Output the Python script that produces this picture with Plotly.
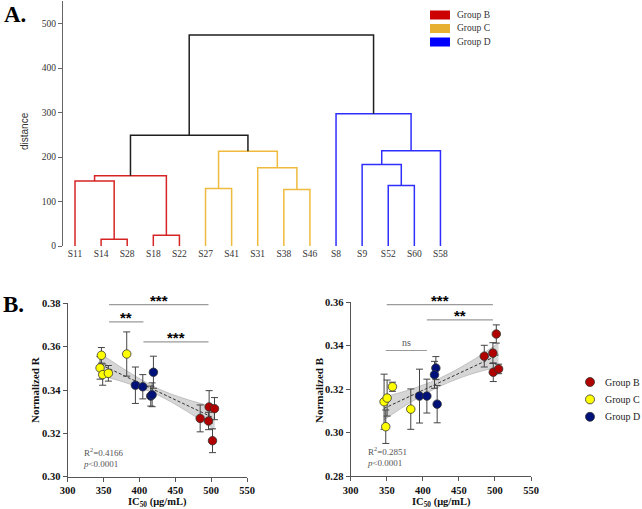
import plotly.graph_objects as go

W, H = 642, 509

# ---------------- Panel A: dendrogram data ----------------
leaves = ["S11", "S14", "S28", "S18", "S22", "S27", "S41", "S31", "S38", "S46",
          "S8", "S9", "S52", "S60", "S58"]
merge_a = ["S14", "S18", "S11", "m2", "S27", "S38", "S31", "m4", "S52", "S9", "m9", "S8", "m3", "m12"]
merge_b = ["S28", "S22", "m0", "m1", "S41", "S46", "m5", "m6", "S60", "m8", "S58", "m10", "m7", "m11"]
merge_h = [15, 24, 146, 158, 129, 127, 176, 213, 136, 183, 214, 297, 249, 474]
merge_g = ["B", "B", "B", "B", "C", "C", "C", "C", "D", "D", "D", "D", "top", "top"]
dendro_colors = {"B": "#d62424", "C": "#efba3e", "D": "#2e2eff", "top": "#1e1e1e"}
legendA_names = ["Group B", "Group C", "Group D"]
legendA_colors = ["#cc0000", "#e8b030", "#0000ff"]

# ---------------- Panel B data ----------------
groups = ["Group B", "Group C", "Group D"]
group_colors = {"Group B": "#b00000", "Group C": "#ffff00", "Group D": "#00127a"}

# Normalized R (left)
R_ic50 = {"Group C": [347.0, 345.1, 348.8, 356.7, 382.3],
          "Group D": [394.4, 404.7, 419.5, 415.8, 417.7],
          "Group B": [484.7, 497.2, 504.7, 496.3, 501.9]}
R_val = {"Group C": [0.3560, 0.3502, 0.3471, 0.3477, 0.3566],
         "Group D": [0.3422, 0.3415, 0.3482, 0.3372, 0.3378],
         "Group B": [0.3269, 0.3322, 0.3314, 0.3257, 0.3166]}
R_sd = {"Group C": [0.0036, 0.0052, 0.0049, 0.0036, 0.0102],
        "Group D": [0.0084, 0.0056, 0.0074, 0.0046, 0.0055],
        "Group B": [0.0062, 0.0075, 0.0051, 0.0040, 0.0055]}
R_fit_x = [346, 385, 425, 465, 505]
R_fit_y = [0.3517, 0.3456, 0.3393, 0.3331, 0.3269]
R_fit_lo = [0.3467, 0.3429, 0.3378, 0.3304, 0.3217]
R_fit_hi = [0.3567, 0.3483, 0.3408, 0.3358, 0.3321]
R_sig_x0 = [357.7, 357.7, 405.6]
R_sig_x1 = [496.3, 405.6, 496.3]
R_sig_y = [0.3794, 0.3714, 0.3622]
R_sig_text = ["***", "**", "***"]
R_stats = "R<sup>2</sup>=0.4166<br><i>p</i>&lt;0.0001"

# Normalized B (right)
B_ic50 = {"Group C": [346.3, 350.5, 357.9, 348.6, 383.3],
          "Group D": [395.4, 405.6, 418.1, 416.2, 419.9],
          "Group B": [485.2, 501.9, 497.2, 497.7, 505.1]}
B_val = {"Group C": [0.3142, 0.3159, 0.3211, 0.3027, 0.3108],
         "Group D": [0.3168, 0.3168, 0.3297, 0.3266, 0.3131],
         "Group B": [0.3352, 0.3454, 0.3366, 0.3278, 0.3293]}
B_sd = {"Group C": [0.0127, 0.0083, 0.0021, 0.0077, 0.0093],
        "Group D": [0.0124, 0.0078, 0.0053, 0.0062, 0.0086],
        "Group B": [0.0050, 0.0042, 0.0048, 0.0043, 0.0022]}
B_fit_x = [346, 385, 425, 465, 505]
B_fit_y = [0.3111, 0.3172, 0.3234, 0.3296, 0.3358]
B_fit_lo = [0.3058, 0.3143, 0.3215, 0.3267, 0.3303]
B_fit_hi = [0.3164, 0.3201, 0.3253, 0.3325, 0.3413]
B_sig_x0 = [350.0, 405.6, 348.6]
B_sig_x1 = [497.2, 497.2, 405.6]
B_sig_y = [0.3589, 0.3519, 0.3378]
B_sig_text = ["***", "**", "ns"]
B_stats = "R<sup>2</sup>=0.2851<br><i>p</i>&lt;0.0001"

SERIF = "Liberation Serif"
SANS = "Liberation Sans"

fig = go.Figure()

# ---------- dendrogram ----------
node_x = {name: i for i, name in enumerate(leaves)}
node_h = {name: 0 for name in leaves}
seg = {g: ([], []) for g in dendro_colors}
for k, (a, b, h, g) in enumerate(zip(merge_a, merge_b, merge_h, merge_g)):
    xs, ys = seg[g]
    xs += [node_x[a], node_x[a], node_x[b], node_x[b], None]
    ys += [node_h[a], h, h, node_h[b], None]
    node_x[f"m{k}"] = (node_x[a] + node_x[b]) / 2
    node_h[f"m{k}"] = h
for g, (xs, ys) in seg.items():
    fig.add_trace(go.Scatter(x=xs, y=ys, mode="lines", xaxis="x", yaxis="y",
                             line=dict(color=dendro_colors[g], width=1.5),
                             showlegend=False, hoverinfo="skip"))


def px_x(p):
    return p / W


def px_y(p):
    return 1 - p / H


def label(x, y, text, size, color="#111", family=SERIF, angle=0, xanchor="center"):
    fig.add_annotation(x=px_x(x), y=px_y(y), xref="paper", yref="paper", text=text,
                       showarrow=False, textangle=angle, xanchor=xanchor, yanchor="middle",
                       font=dict(family=family, size=size, color=color))


# ---------- scatter panels ----------
def add_panel(xa, ya, ic50, val, sd, fx, fy, flo, fhi, sx0, sx1, sy, stext, stats, sx):
    fig.add_trace(go.Scatter(x=fx, y=flo, mode="lines", xaxis=xa, yaxis=ya,
                             line=dict(color="rgba(150,150,150,0.8)", width=0.6, shape="spline"),
                             showlegend=False, hoverinfo="skip"))
    fig.add_trace(go.Scatter(x=fx, y=fhi, mode="lines", xaxis=xa, yaxis=ya, fill="tonexty",
                             fillcolor="rgba(200,200,200,0.75)",
                             line=dict(color="rgba(150,150,150,0.8)", width=0.6, shape="spline"),
                             showlegend=False, hoverinfo="skip"))
    fig.add_trace(go.Scatter(x=[fx[0], fx[-1]], y=[fy[0], fy[-1]], mode="lines", xaxis=xa, yaxis=ya,
                             line=dict(color="#333333", width=1, dash="3px,2px"),
                             showlegend=False, hoverinfo="skip"))
    for x0, x1, y, t in zip(sx0, sx1, sy, stext):
        fig.add_trace(go.Scatter(x=[x0, x1], y=[y, y], mode="lines", xaxis=xa, yaxis=ya,
                                 line=dict(color="#9a9a9a", width=1.2),
                                 showlegend=False, hoverinfo="skip"))
        is_ns = t == "ns"
        fig.add_annotation(x=(x0 + x1) / 2, y=y, xref=xa, yref=ya,
                           text=t if is_ns else f"<b>{t}</b>",
                           showarrow=False, xanchor="center", yanchor="middle",
                           yshift=8.5 if is_ns else 4.5,
                           font=dict(family=SERIF if is_ns else SANS, size=10 if is_ns else 15,
                                     color="#555555" if is_ns else "#000000"))
    for g in ["Group C", "Group D", "Group B"]:
        fig.add_trace(go.Scatter(x=ic50[g], y=val[g], mode="markers", xaxis=xa, yaxis=ya,
                                 name=g, showlegend=False,
                                 error_y=dict(type="data", array=sd[g], color="#444444",
                                              thickness=1, width=3.5),
                                 marker=dict(color=group_colors[g], size=8.5,
                                             line=dict(color="#333333", width=0.8))))
    fig.add_annotation(x=sx, y=0.11, xref=f"{xa} domain", yref=f"{ya} domain",
                       text=stats, showarrow=False, xanchor="left", yanchor="middle",
                       align="left", font=dict(family=SERIF, size=9, color="#555"))


add_panel("x2", "y2", R_ic50, R_val, R_sd, R_fit_x, R_fit_y, R_fit_lo, R_fit_hi,
          R_sig_x0, R_sig_x1, R_sig_y, R_sig_text, R_stats, 0.075)
add_panel("x3", "y3", B_ic50, B_val, B_sd, B_fit_x, B_fit_y, B_fit_lo, B_fit_hi,
          B_sig_x0, B_sig_x1, B_sig_y, B_sig_text, B_stats, 0.082)

axis_B_common = dict(showline=True, linecolor="#555", linewidth=1.3, ticks="outside",
                     ticklen=4, tickwidth=1.2, tickcolor="#555", showgrid=False, zeroline=False,
                     tickfont=dict(family=SERIF, size=10.5, color="#111", weight="bold"))

fig.update_layout(
    width=W, height=H, margin=dict(l=0, r=0, t=0, b=0, autoexpand=False),
    paper_bgcolor="white", plot_bgcolor="white", showlegend=False,
    xaxis=dict(domain=[px_x(63), px_x(453.5)], range=[-0.46, 14.5], anchor="y",
               showline=False, showgrid=False, zeroline=False, ticks="",
               tickvals=list(range(len(leaves))), ticktext=leaves,
               tickfont=dict(family=SERIF, size=9.5, color="#333")),
    yaxis=dict(domain=[px_y(246), px_y(1.3)], range=[0, 550], anchor="x",
               showline=True, linecolor="#666", linewidth=1.2, ticks="outside",
               ticklen=4, tickcolor="#666", tickvals=[0, 100, 200, 300, 400, 500],
               showgrid=False, zeroline=False,
               tickfont=dict(family=SERIF, size=9.5, color="#333")),
    xaxis2=dict(domain=[px_x(67.7), px_x(247)], range=[300, 550], anchor="y2",
                tickvals=[300, 350, 400, 450, 500, 550], **axis_B_common),
    yaxis2=dict(domain=[px_y(476.7), px_y(303.3)], range=[0.30, 0.38], anchor="x2",
                tickvals=[0.30, 0.32, 0.34, 0.36, 0.38], tickformat=".2f", **axis_B_common),
    xaxis3=dict(domain=[px_x(350.7), px_x(531)], range=[300, 550], anchor="y3",
                tickvals=[300, 350, 400, 450, 500, 550], **axis_B_common),
    yaxis3=dict(domain=[px_y(476), px_y(302.3)], range=[0.28, 0.36], anchor="x3",
                tickvals=[0.28, 0.30, 0.32, 0.34, 0.36], tickformat=".2f", **axis_B_common),
)

# Panel labels and titles
label(2, 15, "<b>A.</b>", 23, "#000", xanchor="left")
label(1, 304, "<b>B.</b>", 23, "#000", xanchor="left")
label(25, 131, "distance", 10, "#333", family=SANS, angle=-90)
label(35, 390, "<b>Normalized R</b>", 11, angle=-90)
label(319, 390, "<b>Normalized B</b>", 11, angle=-90)
for cx in (157, 441):
    label(cx, 502, "<b>IC<sub>50</sub> (μg/mL)</b>", 10.5)

# Panel A legend (colour patches)
for i, (nm, col) in enumerate(zip(legendA_names, legendA_colors)):
    yc = 15 + i * 13.5
    fig.add_shape(type="rect", xref="paper", yref="paper", x0=px_x(430), x1=px_x(450),
                  y0=px_y(yc + 4.5), y1=px_y(yc - 4.5), fillcolor=col, line=dict(width=0))
    label(455, yc, nm, 9.5, "#333", xanchor="left")

# Panel B legend (marker symbols)
for i, g in enumerate(groups):
    yc = 382 + i * 17.4
    fig.add_shape(type="circle", xref="paper", yref="paper", x0=px_x(585.5), x1=px_x(594.5),
                  y0=px_y(yc + 4.5), y1=px_y(yc - 4.5), fillcolor=group_colors[g],
                  line=dict(color="#333333", width=0.8))
    label(603, yc, g, 10, "#222", xanchor="left")

fig.write_html("out.html")
